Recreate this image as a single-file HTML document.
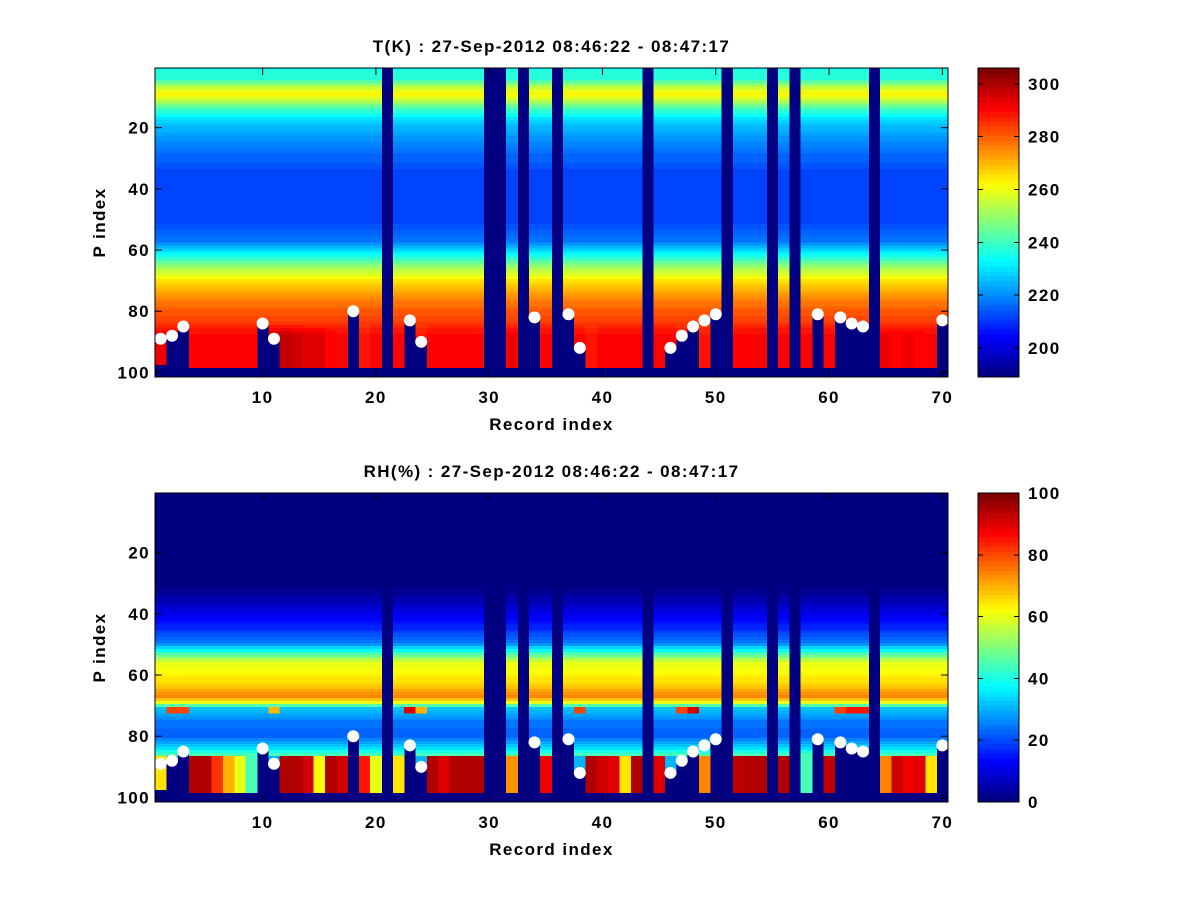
<!DOCTYPE html>
<html><head><meta charset="utf-8"><style>
body{margin:0;background:#fff;}
svg text{font-family:"Liberation Sans",sans-serif;font-weight:bold;fill:#000;letter-spacing:1.4px;}
</style></head><body>
<svg id="fig" width="1200" height="900" xmlns="http://www.w3.org/2000/svg">
<rect width="1200" height="900" fill="#fff"/>
</svg>
<script>
// ---- data ----
const records = Array.from({length:70},(_,i)=>i+1);
const invalidCols = [21,30,31,33,36,44,51,55,57,64];
const dotCols = [1,2,3,10,11,18,23,24,34,37,38,46,47,48,49,50,59,61,62,63,70];
const dotRows = [89,88,85,84,89,80,83,90,82,81,92,92,88,85,83,81,81,82,84,85,83];
const dotDataEnd = [97,88,85,84,89,80,83,90,82,81,92,92,88,85,98,81,81,82,84,85,83];
// temperature profile (P index -> K)
const tProfRows = [1,4,7,9,11,14,18,25,35,50,57,62,66,70,75,80,86,98];
const tProfVals = [236,238,255,263,256,240,228,219,212,211,218,236,252,264,274,281,286,289];
// per-column near-surface temperature
const tSurf = [293,290,288,290,290,290,290,290,290,288,296,298,296,295,294,291,290,290,288,290,0,290,290,288,290,290,290,290,290,0,0,293,0,290,290,0,290,290,288,290,290,290,290,0,290,290,288,290,288,288,0,290,290,290,0,290,0,290,290,290,290,290,290,0,293,291,293,291,290,290];
// RH profile (P index -> %)
const rhProfRows = [1,30,35,40,45,50,53,56,60,64,67,69,71,75,80,84,86];
const rhProfVals = [0,0,5,11,17,27,45,60,63,68,75,60,32,25,22,35,45];
// per-column near-surface RH (rows 87-98)
const rhSurf = [65,30,30,95,95,82,70,60,45,30,30,95,95,92,62,95,92,30,85,60,0,65,30,30,95,90,94,95,95,0,0,72,0,30,88,0,30,30,95,92,90,65,95,0,90,30,30,30,75,30,0,93,95,95,0,95,0,45,30,93,30,30,30,0,75,92,88,90,65,30];
// per-column RH at rows 71-72 (moist layer, 0 = profile value)
const rhMid = [0,80,80,0,0,0,0,0,0,0,70,0,0,0,0,0,0,0,0,0,0,0,90,70,0,0,0,0,0,0,0,0,0,0,0,0,0,80,0,0,0,0,0,0,0,0,80,92,0,0,0,0,0,0,0,0,0,0,0,0,80,85,85,0,0,0,0,0,0,0];
const xTicks=[10,20,30,40,50,60,70];
const yTicks=[20,40,60,80,100];
const tCbTicks=[200,220,240,260,280,300];
const rhCbTicks=[0,20,40,60,80,100];

// ---- helpers ----
const NS="http://www.w3.org/2000/svg";
const svg=document.getElementById('fig');
function el(tag,attrs,parent){const e=document.createElementNS(NS,tag);for(const k in attrs)e.setAttribute(k,attrs[k]);(parent||svg).appendChild(e);return e;}
function interp(rows,vals,r){if(r<=rows[0])return vals[0];for(let i=1;i<rows.length;i++){if(r<=rows[i]){const f=(r-rows[i-1])/(rows[i]-rows[i-1]);return vals[i-1]+f*(vals[i]-vals[i-1]);}}return vals[vals.length-1];}
function jet(t){t=Math.max(0,Math.min(1,t));t=Math.floor(t*63.999)/63;const c=v=>Math.round(255*Math.max(0,Math.min(1,v)));return `rgb(${c(1.5-Math.abs(4*t-3))},${c(1.5-Math.abs(4*t-2))},${c(1.5-Math.abs(4*t-1))})`;}

function makePanel(p){
  const g=el('g',{});
  
  
  const X=v=>p.x0+(v-0.5)/70*(p.x1-p.x0);
  const Y=v=>p.y0+(v-0.5)/101*(p.y1-p.y0);
  const bg=el('rect',{x:p.x0,y:p.y0,width:p.x1-p.x0,height:p.y1-p.y0,fill:jet(0)},g);
  
  
  const cells=el('g',{'shape-rendering':'crispEdges'},g);
  
  
  records.forEach((c,ci)=>{
    if(invalidCols.includes(c))return;
    const di=dotCols.indexOf(c);
    const end=di>=0?dotDataEnd[di]:98;
    for(let r=1;r<=end;r++){
      const v=p.value(ci,r);
      const rc=el('rect',{x:X(c-0.5),y:Y(r-0.5),width:X(c+0.5)-X(c-0.5)+0.3,height:Y(r+0.5)-Y(r-0.5)+0.3,fill:jet((v-p.vmin)/(p.vmax-p.vmin))},cells);
      
      
    }
  });
  dotCols.forEach((c,i)=>{
    const d=el('circle',{cx:X(c),cy:Y(dotRows[i]),r:6,fill:'#fff'},g);
    
    
  });
  const fr=el('rect',{x:p.x0,y:p.y0,width:p.x1-p.x0,height:p.y1-p.y0,fill:'none',stroke:'#000','stroke-width':1},g);
  
  
  xTicks.forEach(t=>{
    el('line',{x1:X(t),x2:X(t),y1:p.y1,y2:p.y1-7,stroke:'#000'},g);
    el('line',{x1:X(t),x2:X(t),y1:p.y0,y2:p.y0+7,stroke:'#000'},g);
    const tx=el('text',{x:X(t),y:p.y1+26,'font-size':17,'text-anchor':'middle'},g);tx.textContent=t;
    
    
  });
  yTicks.forEach(t=>{
    el('line',{x1:p.x0,x2:p.x0+7,y1:Y(t),y2:Y(t),stroke:'#000'},g);
    el('line',{x1:p.x1,x2:p.x1-7,y1:Y(t),y2:Y(t),stroke:'#000'},g);
    const tx=el('text',{x:p.x0-5,y:Y(t)+6,'font-size':17,'text-anchor':'end'},g);tx.textContent=t;
    
    
  });
  const ti=el('text',{x:(p.x0+p.x1)/2,y:p.y0-16,'font-size':17,'text-anchor':'middle'},g);ti.textContent=p.title;
  
  
  const xl=el('text',{x:(p.x0+p.x1)/2,y:p.y1+53,'font-size':17,'text-anchor':'middle'},g);xl.textContent='Record index';
  
  
  const yl=el('text',{x:0,y:0,'font-size':17,'text-anchor':'middle',transform:`translate(105,${(p.y0+p.y1)/2}) rotate(-90)`},g);yl.textContent='P index';
  
  
  // colorbar
  const cb=el('g',{'shape-rendering':'crispEdges'},g);
  
  
  const cx0=978,cx1=1019,n=64,h=(p.y1-p.y0)/n;
  for(let i=0;i<n;i++){el('rect',{x:cx0,y:p.y1-(i+1)*h,width:cx1-cx0,height:h+0.5,fill:jet((i+0.5)/n)},cb);}
  el('rect',{x:cx0,y:p.y0,width:cx1-cx0,height:p.y1-p.y0,fill:'none',stroke:'#000'},cb);
  const CY=v=>p.y1-(v-p.vmin)/(p.vmax-p.vmin)*(p.y1-p.y0);
  p.cbTicks.forEach(t=>{
    el('line',{x1:cx0,x2:cx0+5,y1:CY(t),y2:CY(t),stroke:'#000'},cb);
    el('line',{x1:cx1,x2:cx1-5,y1:CY(t),y2:CY(t),stroke:'#000'},cb);
    const tx=el('text',{x:cx1+9,y:CY(t)+6,'font-size':17},g);tx.textContent=t;
    
    
  });
}

makePanel({name:'temperature-panel',title:'T(K) : 27-Sep-2012 08:46:22 - 08:47:17',x0:155,x1:948,y0:68,y1:377,vmin:189,vmax:306,cbTicks:tCbTicks,
  value:(ci,r)=>{const base=interp(tProfRows,tProfVals,r);if(r>=84){const f=Math.min(1,(r-84)/4);return base+f*(tSurf[ci]-base);}return base;}});
makePanel({name:'humidity-panel',title:'RH(%) : 27-Sep-2012 08:46:22 - 08:47:17',x0:155,x1:948,y0:493,y1:802,vmin:0,vmax:100,cbTicks:rhCbTicks,
  value:(ci,r)=>{let v=interp(rhProfRows,rhProfVals,r);if((r===71||r===72)&&rhMid[ci]>0)v=rhMid[ci];if(r>=87)v=rhSurf[ci];return v;}});
</script>
</body></html>
